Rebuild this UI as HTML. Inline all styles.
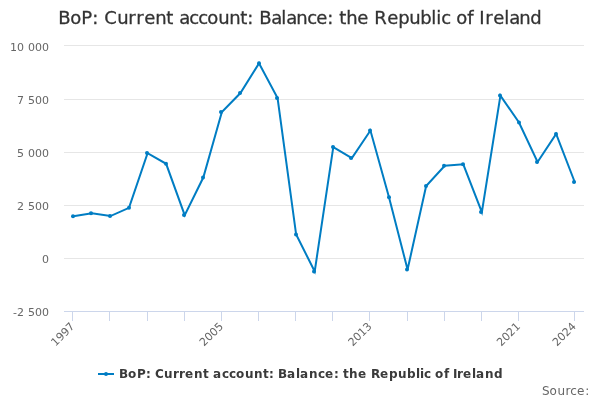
<!DOCTYPE html>
<html><head><meta charset="utf-8"><title>BoP: Current account: Balance: the Republic of Ireland</title>
<style>
html,body{margin:0;padding:0;background:#fff;}
svg{display:block;font-family:"DejaVu Sans","Liberation Sans",sans-serif;}
</style></head><body>
<svg width="600" height="400" viewBox="0 0 600 400">
<rect x="0" y="0" width="600" height="400" fill="#FFFFFF"/>
<g class="grid"><path d="M 64 45.5 L 584 45.5" stroke="#E6E6E6" stroke-width="1" fill="none"/><path d="M 64 99.5 L 584 99.5" stroke="#E6E6E6" stroke-width="1" fill="none"/><path d="M 64 152.5 L 584 152.5" stroke="#E6E6E6" stroke-width="1" fill="none"/><path d="M 64 205.5 L 584 205.5" stroke="#E6E6E6" stroke-width="1" fill="none"/><path d="M 64 258.5 L 584 258.5" stroke="#E6E6E6" stroke-width="1" fill="none"/></g>
<g class="axis-x"><path d="M 72.5 312 L 72.5 321" stroke="#CCD6EB" stroke-width="1" fill="none"/><path d="M 109.5 312 L 109.5 321" stroke="#CCD6EB" stroke-width="1" fill="none"/><path d="M 147.5 312 L 147.5 321" stroke="#CCD6EB" stroke-width="1" fill="none"/><path d="M 184.5 312 L 184.5 321" stroke="#CCD6EB" stroke-width="1" fill="none"/><path d="M 221.5 312 L 221.5 321" stroke="#CCD6EB" stroke-width="1" fill="none"/><path d="M 258.5 312 L 258.5 321" stroke="#CCD6EB" stroke-width="1" fill="none"/><path d="M 295.5 312 L 295.5 321" stroke="#CCD6EB" stroke-width="1" fill="none"/><path d="M 332.5 312 L 332.5 321" stroke="#CCD6EB" stroke-width="1" fill="none"/><path d="M 369.5 312 L 369.5 321" stroke="#CCD6EB" stroke-width="1" fill="none"/><path d="M 407.5 312 L 407.5 321" stroke="#CCD6EB" stroke-width="1" fill="none"/><path d="M 444.5 312 L 444.5 321" stroke="#CCD6EB" stroke-width="1" fill="none"/><path d="M 481.5 312 L 481.5 321" stroke="#CCD6EB" stroke-width="1" fill="none"/><path d="M 518.5 312 L 518.5 321" stroke="#CCD6EB" stroke-width="1" fill="none"/><path d="M 574.5 312 L 574.5 321" stroke="#CCD6EB" stroke-width="1" fill="none"/><path d="M 64 311.5 L 584 311.5" stroke="#CCD6EB" stroke-width="1" fill="none"/></g>
<g class="series"><path d="M 73.29 216.30 L 91.86 213.30 L 110.43 216.05 L 129.00 207.80 L 147.57 153.10 L 166.14 163.80 L 184.71 215.10 L 203.29 177.55 L 221.86 112.05 L 240.43 93.05 L 259.00 63.35 L 277.57 98.05 L 296.14 234.55 L 314.71 271.40 L 333.29 147.05 L 351.86 158.05 L 370.43 130.55 L 389.00 197.30 L 407.57 269.55 L 426.14 186.05 L 444.71 165.80 L 463.29 164.30 L 481.86 212.10 L 500.43 95.60 L 519.00 122.50 L 537.57 162.00 L 556.14 134.00 L 574.71 182.00" fill="none" stroke="#007DC3" stroke-width="2" stroke-linejoin="miter" stroke-linecap="round"/><circle cx="73" cy="216.30" r="2" fill="#007DC3"/><circle cx="91" cy="213.30" r="2" fill="#007DC3"/><circle cx="110" cy="216.05" r="2" fill="#007DC3"/><circle cx="129" cy="207.80" r="2" fill="#007DC3"/><circle cx="147" cy="153.10" r="2" fill="#007DC3"/><circle cx="166" cy="163.80" r="2" fill="#007DC3"/><circle cx="184" cy="215.10" r="2" fill="#007DC3"/><circle cx="203" cy="177.55" r="2" fill="#007DC3"/><circle cx="221" cy="112.05" r="2" fill="#007DC3"/><circle cx="240" cy="93.05" r="2" fill="#007DC3"/><circle cx="259" cy="63.35" r="2" fill="#007DC3"/><circle cx="277" cy="98.05" r="2" fill="#007DC3"/><circle cx="296" cy="234.55" r="2" fill="#007DC3"/><circle cx="314" cy="271.40" r="2" fill="#007DC3"/><circle cx="333" cy="147.05" r="2" fill="#007DC3"/><circle cx="351" cy="158.05" r="2" fill="#007DC3"/><circle cx="370" cy="130.55" r="2" fill="#007DC3"/><circle cx="389" cy="197.30" r="2" fill="#007DC3"/><circle cx="407" cy="269.55" r="2" fill="#007DC3"/><circle cx="426" cy="186.05" r="2" fill="#007DC3"/><circle cx="444" cy="165.80" r="2" fill="#007DC3"/><circle cx="463" cy="164.30" r="2" fill="#007DC3"/><circle cx="481" cy="212.10" r="2" fill="#007DC3"/><circle cx="500" cy="95.60" r="2" fill="#007DC3"/><circle cx="519" cy="122.50" r="2" fill="#007DC3"/><circle cx="537" cy="162.00" r="2" fill="#007DC3"/><circle cx="556" cy="134.00" r="2" fill="#007DC3"/><circle cx="574" cy="182.00" r="2" fill="#007DC3"/></g>
<text x="58.25 70.25 81.25 92.25 98.25 104.25 117.25 128.25 136.25 144.25 155.25 166.25 173.25 179.25 189.25 198.25 207.25 218.25 229.25 240.25 247.25 253.25 259.25 271.25 281.25 286.25 296.25 307.25 316.25 327.25 333.25 339.25 346.25 357.25 368.25 374.25 387.25 398.25 409.25 420.25 431.25 436.25 441.25 450.25 456.25 467.25 473.25 479.25 485.25 493.25 504.25 509.25 519.25 530.25" y="24" font-size="18px" fill="#333333" stroke="#333333" stroke-width="0.3">BoP: Current account: Balance: the Republic of Ireland</text>
<g class="legend"><path d="M 98 374 L 114 374" stroke="#007DC3" stroke-width="2" fill="none"/><circle cx="106" cy="374" r="2" fill="#007DC3"/>
<text x="119 128 137 146 151 155 164 173 179 185 194 203 209 213 222 229 236 245 254 263 269 274 278 287 296 300 309 318 325 334 339 343 349 358 367 371 380 389 398 407 416 420 424 431 435 444 449 453 457 463 472 476 485 494" y="378" font-size="12px" font-weight="bold" fill="#3A3A3A">BoP: Current account: Balance: the Republic of Ireland</text></g>
<g class="xlabels" font-size="11px" fill="#666666"><text x="75.29" y="327" text-anchor="end" transform="rotate(-45 75.29 327)">1997</text><text x="223.86" y="327" text-anchor="end" transform="rotate(-45 223.86 327)">2005</text><text x="372.43" y="327" text-anchor="end" transform="rotate(-45 372.43 327)">2013</text><text x="521.00" y="327" text-anchor="end" transform="rotate(-45 521.00 327)">2021</text><text x="576.71" y="327" text-anchor="end" transform="rotate(-45 576.71 327)">2024</text></g>
<g class="ylabels" font-size="11px" fill="#666666"><text x="10.1 17.1 24.1 28.1 35.1 42.1" y="51">10 000</text><text x="17.1 24.1 28.1 35.1 42.1" y="104">7 500</text><text x="17.1 24.1 28.1 35.1 42.1" y="157">5 000</text><text x="17.1 24.1 28.1 35.1 42.1" y="210">2 500</text><text x="42.1" y="263">0</text><text x="13.1 17.1 24.1 28.1 35.1 42.1" y="316">-2 500</text></g>
<text x="542 549.5 557.5 565.5 570.3 577 585.2 589" y="395" font-size="12px" fill="#666666">Source: </text>
</svg>
</body></html>
